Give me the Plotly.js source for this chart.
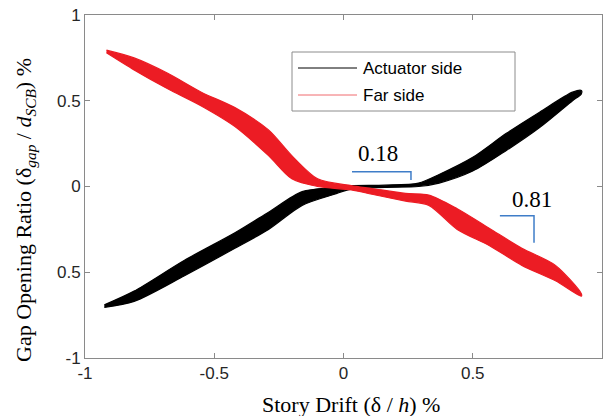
<!DOCTYPE html>
<html>
<head>
<meta charset="utf-8">
<script src="https://cdn.plot.ly/plotly-3.0.1.min.js"></script>
<style>html,body{margin:0;padding:0;background:#fff;}#chart{width:605px;height:416px;}</style>
</head>
<body>
<div id="chart"></div>
<script>
// Actuator side band (story drift %, lower and upper edge of the gap ratio %)
var actX  = [-0.925, -0.81, -0.615, -0.42, -0.29, -0.16, -0.035, 0.03, 0.16, 0.29, 0.37, 0.50, 0.63, 0.76, 0.886, 0.92];
var actLo = [-0.705, -0.67, -0.52, -0.36, -0.25, -0.11, -0.045, -0.015, -0.005, 0.0, 0.02, 0.09, 0.21, 0.345, 0.50, 0.54];
var actHi = [-0.69, -0.61, -0.43, -0.27, -0.15, -0.03, -0.005, 0.005, 0.008, 0.02, 0.07, 0.17, 0.31, 0.435, 0.55, 0.56];

// Far side band
var farX  = [-0.917, -0.81, -0.68, -0.55, -0.42, -0.29, -0.20, -0.10, 0.03, 0.11, 0.24, 0.33, 0.44, 0.565, 0.69, 0.82, 0.92];
var farLo = [0.78, 0.68, 0.57, 0.47, 0.35, 0.18, 0.045, 0.0, -0.02, -0.045, -0.085, -0.11, -0.25, -0.345, -0.46, -0.55, -0.64];
var farHi = [0.795, 0.75, 0.66, 0.55, 0.46, 0.33, 0.18, 0.045, 0.005, -0.012, -0.04, -0.05, -0.13, -0.245, -0.36, -0.46, -0.625];

var seriesNames = ["Actuator side", "Far side"];
var xTickVals = [-1, -0.5, 0, 0.5, 1];
var xTickText = ["-1", "-0.5", "0", "0.5", "1"];
var yTickVals = [-1, -0.5, 0, 0.5, 1];
var yTickText = ["-1", "0.5", "0", "0.5", "1"];
var slopeLabels = ["0.18", "0.81"];

var BLACK = "#000000", RED = "#EC1C24", BLUE = "#3F7DC8";

function band(xs, lo, hi, name, color) {
  var bx = xs.concat(xs.slice().reverse());
  var by = hi.concat(lo.slice().reverse());
  return {
    x: bx, y: by, name: name, type: "scatter", mode: "lines",
    fill: "toself", fillcolor: color,
    line: {color: color, width: 1.2, shape: "spline", smoothing: 0.8},
    showlegend: false, hoverinfo: "skip"
  };
}

var traces = [
  band(actX, actLo, actHi, seriesNames[0], BLACK),
  band(farX, farLo, farHi, seriesNames[1], RED)
];

// plot area pixel helpers for the legend box
var L = 85, R = 3, T = 15, B = 58, W = 605, H = 416;
var pw = W - L - R, ph = H - T - B;
function px(x) { return (x - L) / pw; }
function py(y) { return (H - B - y) / ph; }

var shapes = [
  // legend box
  {type: "rect", xref: "paper", yref: "paper", x0: px(292), x1: px(515), y0: py(111), y1: py(52),
   line: {color: "#8c8c8c", width: 1}, fillcolor: "#ffffff"},
  {type: "line", xref: "paper", yref: "paper", x0: px(298), x1: px(357), y0: py(68), y1: py(68),
   line: {color: BLACK, width: 1}},
  {type: "line", xref: "paper", yref: "paper", x0: px(298), x1: px(357), y0: py(95), y1: py(95),
   line: {color: "#F06A6E", width: 1}},
  // slope brackets
  {type: "path", xref: "x", yref: "y", path: "M0.033,0.086 L0.261,0.086 L0.261,0.038",
   line: {color: BLUE, width: 1.5}},
  {type: "path", xref: "x", yref: "y", path: "M0.605,-0.170 L0.737,-0.170 L0.737,-0.328",
   line: {color: BLUE, width: 1.5}}
];

var serif = "Liberation Serif, Times New Roman, serif";
var sans = "Liberation Sans, Arial, sans-serif";

var annotations = [
  {xref: "paper", yref: "paper", x: px(361), y: py(68), xanchor: "left", yanchor: "middle",
   text: seriesNames[0], showarrow: false, font: {family: sans, size: 17, color: "#000"}},
  {xref: "paper", yref: "paper", x: px(361), y: py(95), xanchor: "left", yanchor: "middle",
   text: seriesNames[1], showarrow: false, font: {family: sans, size: 17, color: "#000"}},
  {xref: "x", yref: "y", x: 0.1335, y: 0.192, text: slopeLabels[0], showarrow: false,
   font: {family: serif, size: 23, color: "#000"}},
  {xref: "x", yref: "y", x: 0.731, y: -0.076, text: slopeLabels[1], showarrow: false,
   font: {family: serif, size: 23, color: "#000"}},
  // y-axis title
  {xref: "paper", yref: "paper", x: px(25), y: py(210), xanchor: "center", yanchor: "middle",
   textangle: -90, showarrow: false,
   text: "Gap Opening Ratio (δ<sub><i>gap</i></sub> / <i>d</i><sub><i>SCB</i></sub>) %",
   font: {family: serif, size: 22, color: "#000"}},
  // x-axis title
  {xref: "paper", yref: "paper", x: px(351), y: py(404), xanchor: "center", yanchor: "middle",
   showarrow: false, text: "Story Drift (δ / <i>h</i>) %",
   font: {family: serif, size: 22, color: "#000"}}
];

var axisCommon = {
  showgrid: false, zeroline: false, showline: true, linecolor: "#8a8a8a", linewidth: 1,
  mirror: "ticks", ticks: "inside", ticklen: 5, tickcolor: "#8a8a8a", tickwidth: 1,
  tickfont: {family: sans, size: 17, color: "#262626"}
};

var layout = {
  width: W, height: H,
  margin: {l: L, r: R, t: T, b: B, pad: 0},
  paper_bgcolor: "#ffffff", plot_bgcolor: "#ffffff",
  showlegend: false,
  xaxis: Object.assign({}, axisCommon, {
    range: [-1, 1], tickvals: xTickVals, ticktext: xTickText
  }),
  yaxis: Object.assign({}, axisCommon, {
    range: [-1, 1], tickvals: yTickVals, ticktext: yTickText
  }),
  shapes: shapes,
  annotations: annotations
};

Plotly.newPlot("chart", traces, layout, {displayModeBar: false, staticPlot: true});
</script>
</body>
</html>
